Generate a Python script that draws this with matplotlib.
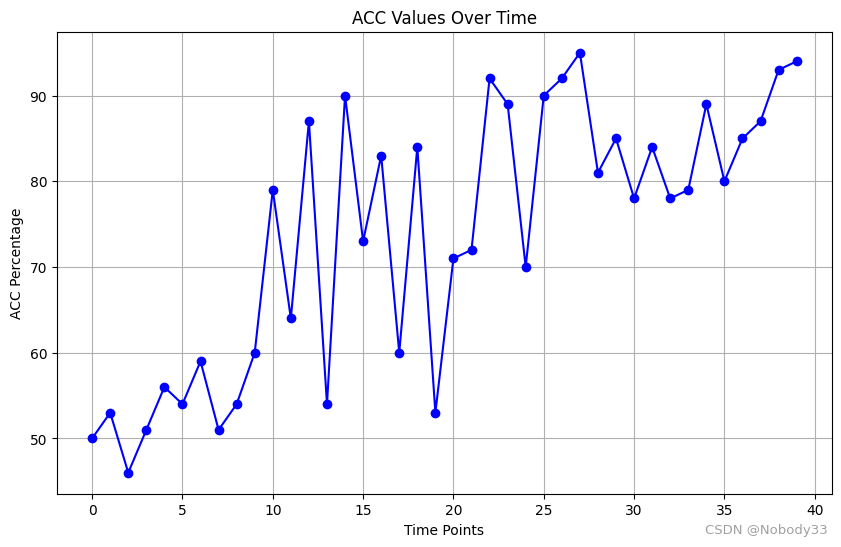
import matplotlib.pyplot as plt

# time points and ACC values
time_points = list(range(40))
acc_values = [50, 53, 46, 51, 56, 54, 59, 51, 54, 60,
              79, 64, 87, 54, 90, 73, 83, 60, 84, 53,
              71, 72, 92, 89, 70, 90, 92, 95, 81, 85,
              78, 84, 78, 79, 89, 80, 85, 87, 93, 94]

fig = plt.figure(figsize=(10, 6), dpi=100)
plt.plot(time_points, acc_values, marker='o', linestyle='-', color='b')
plt.title('ACC Values Over Time')
plt.xlabel('Time Points')
plt.ylabel('ACC Percentage')
plt.grid(True)

# watermark in the corner
fig.text(0.896, 0.05, 'CSDN @Nobody33', color='#a0a0a0', fontsize=9.5,
         ha='right', va='center')

plt.savefig('out.png', bbox_inches='tight')
